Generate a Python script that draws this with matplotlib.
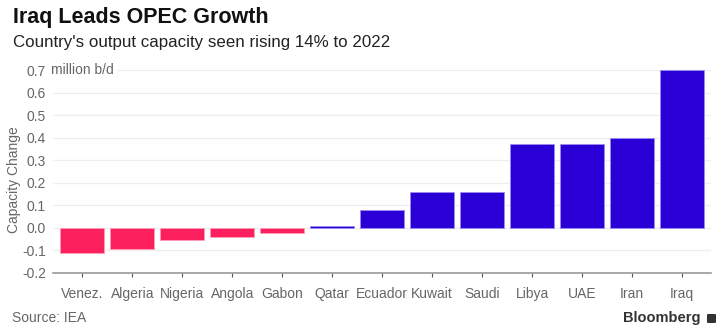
import matplotlib.pyplot as plt
import matplotlib.transforms as mtransforms
from matplotlib.patches import FancyBboxPatch

plt.rcParams['font.family'] = ['Liberation Sans', 'DejaVu Sans']

countries = ['Venez.', 'Algeria', 'Nigeria', 'Angola', 'Gabon', 'Qatar',
             'Ecuador', 'Kuwait', 'Saudi', 'Libya', 'UAE', 'Iran', 'Iraq']
change = [-0.11, -0.093, -0.052, -0.04, -0.022, 0.009,
          0.079, 0.161, 0.161, 0.372, 0.372, 0.401, 0.70]
yticks = [-0.2, -0.1, 0.0, 0.1, 0.2, 0.3, 0.4, 0.5, 0.6, 0.7]

neg_color = '#fb1f5e'
pos_color = '#2b00d6'
label_gray = '#666666'

fig = plt.figure(figsize=(7.24, 3.31), dpi=100)
ax = fig.add_axes([53 / 724, 1 - 273 / 331, (711 - 53) / 724, (273 - 69) / 331])

colors = [neg_color if v < 0 else pos_color for v in change]
edges = ['#ff9db8' if v < 0 else '#9c8cf0' for v in change]
ax.bar(range(len(countries)), change, width=0.88, color=colors,
       edgecolor=edges, linewidth=0.6, zorder=3)

ax.set_xlim(-0.59, 12.58)
ax.set_ylim(-0.2, 0.705)
ax.set_yticks(yticks)
ax.set_yticklabels([f'{t:.1f}' for t in yticks])
ax.grid(axis='y', color='#eeeeee', linewidth=0.9, zorder=0)
ax.set_xticks(range(len(countries)))
ax.set_xticklabels(countries)

for s in ['top', 'right', 'left']:
    ax.spines[s].set_visible(False)
ax.spines['bottom'].set_color('#9a9a9a')
ax.spines['bottom'].set_linewidth(1.2)
ax.tick_params(axis='y', length=0, pad=5, labelsize=10, labelcolor=label_gray)
ax.tick_params(axis='x', length=3, color='#555555', pad=7, labelsize=10,
               labelcolor=label_gray)

# unit label sits on the top gridline, right after the 0.7 tick label
unit_tr = mtransforms.blended_transform_factory(fig.transFigure, ax.transData)
ax.text(51 / 724, 0.7, 'million b/d', transform=unit_tr,
        ha='left', va='center', fontsize=10, color=label_gray,
        bbox=dict(facecolor='white', edgecolor='none', pad=2.5), zorder=4,
        clip_on=False)

fig.text(14 / 724, 1 - 180 / 331, 'Capacity Change', rotation=90,
         ha='center', va='center', fontsize=10, color=label_gray)

fig.text(13 / 724, 1 - 18 / 331, 'Iraq Leads OPEC Growth', fontsize=15.5,
         fontweight='bold', ha='left', va='center', color='#111111')
fig.text(13 / 724, 1 - 42 / 331, "Country's output capacity seen rising 14% to 2022",
         fontsize=12.2, ha='left', va='center', color='#222222')
fig.text(12 / 724, 1 - 318 / 331, 'Source: IEA', fontsize=10,
         ha='left', va='center', color='#666666')
fig.text(701 / 724, 1 - 318 / 331, 'Bloomberg', fontsize=10.5, fontweight='bold',
         ha='right', va='center', color='#333333')

# small logo mark next to the wordmark
fig.patches.append(FancyBboxPatch((707 / 724, 1 - 323 / 331), 9 / 724, 9 / 331,
                                  boxstyle='round,pad=0,rounding_size=0.002',
                                  transform=fig.transFigure, facecolor='#333333',
                                  edgecolor='none'))

fig.savefig('out.png', dpi=100)
